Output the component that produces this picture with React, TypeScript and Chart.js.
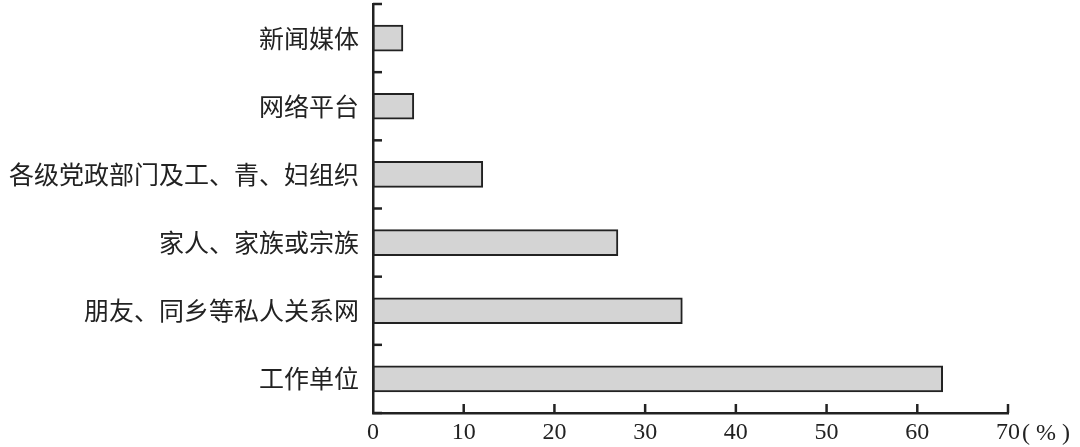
import React, { useEffect, useRef } from "react";
import { Chart, registerables } from "chart.js";

Chart.register(...registerables);

const categories = [
  "新闻媒体",
  "网络平台",
  "各级党政部门及工、青、妇组织",
  "家人、家族或宗族",
  "朋友、同乡等私人关系网",
  "工作单位",
];
const values = [3.3, 4.5, 12.1, 27.0, 34.1, 62.8];
const xTicks = [0, 10, 20, 30, 40, 50, 60, 70];
const unitLabel = "( % )";

const INK = "#222222";
const CJK = "'Noto Sans CJK SC', 'Noto Sans', sans-serif";
const SERIF = "'Liberation Serif', 'DejaVu Serif', serif";

const inwardTicks = {
  id: "inwardTicks",
  afterDraw(chart: any) {
    const { ctx } = chart;
    const x = chart.scales.x;
    const y = chart.scales.y;
    ctx.save();
    ctx.strokeStyle = INK;
    ctx.lineWidth = 2.5;
    for (let i = 0; i <= categories.length; i++) {
      const py = y.getPixelForValue(i - 0.5);
      ctx.beginPath();
      ctx.moveTo(x.left, py);
      ctx.lineTo(x.left + 9, py);
      ctx.stroke();
    }
    for (const v of xTicks) {
      if (v === 0) continue;
      const px = x.getPixelForValue(v);
      ctx.beginPath();
      ctx.moveTo(px, y.bottom);
      ctx.lineTo(px, y.bottom - 9);
      ctx.stroke();
    }
    const last = xTicks[xTicks.length - 1];
    ctx.font = `24px ${SERIF}`;
    const w = ctx.measureText(String(last)).width;
    const px = x.getPixelForValue(last) + w / 2 + 2;
    ctx.fillStyle = INK;
    ctx.textAlign = "left";
    ctx.textBaseline = "middle";
    ctx.fillText(unitLabel, px, x.top + 21);
    ctx.restore();
  },
};

export default function App() {
  const ref = useRef<HTMLCanvasElement>(null);
  useEffect(() => {
    document.body.style.margin = "0";
    const chart = new Chart(ref.current!, {
      type: "bar",
      data: {
        labels: categories,
        datasets: [
          {
            data: values,
            backgroundColor: "#d4d4d4",
            borderColor: INK,
            borderWidth: 2,
            borderSkipped: false,
            barThickness: 26,
          },
        ],
      },
      options: {
        indexAxis: "y",
        animation: false,
        responsive: false,
        layout: { padding: { top: 4, right: 72, left: 0, bottom: 0 } },
        plugins: { legend: { display: false }, tooltip: { enabled: false } },
        scales: {
          x: {
            min: 0,
            max: 70,
            afterBuildTicks: (s: any) => {
              s.ticks = xTicks.map((v) => ({ value: v }));
            },
            afterFit: (s: any) => {
              s.height = 34;
              s.paddingLeft = 0;
              s.paddingRight = 0;
            },
            grid: { display: false, drawTicks: false },
            border: { display: true, color: INK, width: 2.5 },
            ticks: {
              color: INK,
              padding: 5,
              font: { family: SERIF, size: 24 },
              maxRotation: 0,
              autoSkip: false,
            },
          },
          y: {
            afterFit: (s: any) => {
              s.width = 373;
              s.paddingTop = 0;
              s.paddingBottom = 0;
            },
            grid: { display: false, drawTicks: false },
            border: { display: true, color: INK, width: 2.5 },
            ticks: {
              color: INK,
              padding: 14,
              font: { family: CJK, size: 25 },
              autoSkip: false,
            },
          },
        },
      },
      plugins: [inwardTicks],
    });
    return () => chart.destroy();
  }, []);
  return (
    <div style={{ position: "absolute", left: 0, top: 0, width: 1080, height: 447 }}>
      <canvas ref={ref} width={1080} height={447} />
    </div>
  );
}
